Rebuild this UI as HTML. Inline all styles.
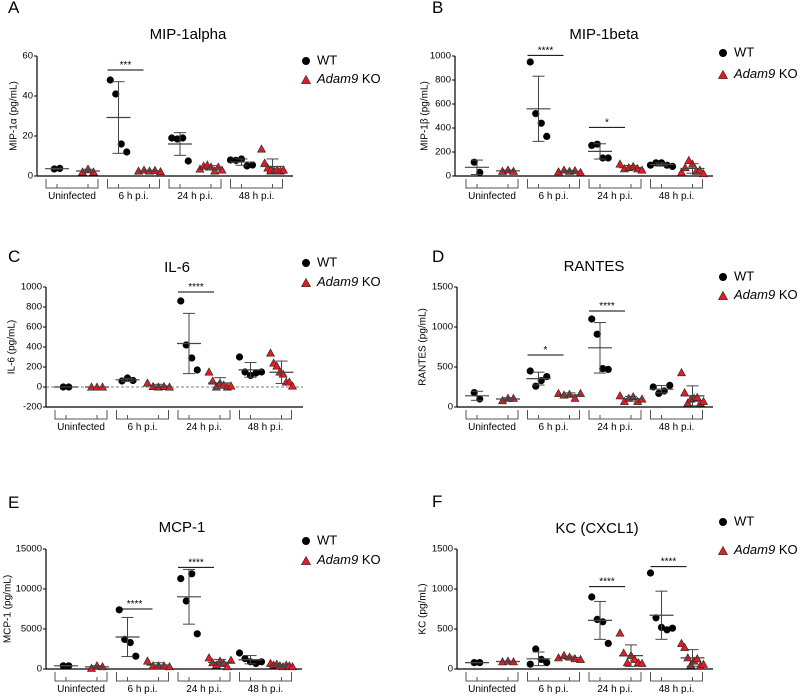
<!DOCTYPE html>
<html><head><meta charset="utf-8"><style>
body{margin:0;background:#fff;}
svg{display:block;font-family:"Liberation Sans",Arial,sans-serif;}
</style></head><body>
<svg id="fig" width="800" height="697" viewBox="0 0 800 697"></svg>
<script>
const groups = ["Uninfected","6 h p.i.","24 h p.i.","48 h p.i."];
const wtA = [[3.5,3.8],[48,41,16,12],[19,18.5,19,7.5],[8,7.8,8.5,5,5.5]];
const koA = [[2,3.5,2],[2.5,3,2.5,2.8,2.2],[3.5,5,5.5,4.5,2.5,4.5,3],[13.5,6.5,4,3,2.5,3,2.5,3]];
const wtB = [[115,30],[950,520,440,330],[255,265,150,150],[90,110,110,90,80]];
const koB = [[40,50,40],[35,50,40,45,30],[100,60,70,80,60,50],[30,70,130,100,40,50,20]];
const wtC = [[0,0],[60,90,65],[860,420,290,170],[300,150,115,140,150]];
const koC = [[0,0,0],[40,5,0,5,0],[150,60,0,40,20,0,10],[340,240,210,150,130,50,50,10]];
const wtD = [[180,100],[450,260,330,380],[1100,910,480,470],[250,170,200,270]];
const koD = [[80,110,110],[170,150,160,110,170],[140,70,110,130,70,100],[430,180,50,100,110,120,50,70]];
const wtE = [[400,400],[7400,3700,3300,1600],[11300,8500,11900,4400],[2000,1300,900,700,900]];
const koE = [[100,400,300],[1000,400,400,400,300],[1400,800,500,1000,700,300,1100],[700,500,600,400,300,500,400,300]];
const wtF = [[80,80],[60,250,120,80],[900,620,590,320],[1200,640,520,490,510]];
const koF = [[90,100,90],[140,170,150,130,120],[450,200,80,170,120,80,70],[320,270,140,50,100,130,40,60]];
const ticksA=[0,20,40,60], ticksB=[0,200,400,600,800,1000], ticksC=[-200,0,200,400,600,800,1000],
      ticksD=[0,500,1000,1500], ticksE=[0,5000,10000,15000], ticksF=[0,500,1000,1500];
const sigA=[[1,"***",53]], sigB=[[1,"****",1005],[2,"*",405]], sigC=[[2,"****",950]],
      sigD=[[1,"*",650],[2,"****",1200]], sigE=[[1,"****",7500],[2,"****",12700]], sigF=[[2,"****",1030],[3,"****",1280]];

const panels=[
 {id:"a",L:"A",lx:8,ly:13,title:"MIP-1alpha",tx:188,ty:35,ylab:"MIP-1\u03b1 (pg/mL)",ylx:14,ax:37,yb:176,yt:56,min:0,max:60,ticks:ticksA,xend:293,g0:72,wt:wtA,ko:koA,sig:sigA,legy:[61,80],legx:306},
 {id:"b",L:"B",lx:432,ly:13,title:"MIP-1beta",tx:604,ty:35,ylab:"MIP-1\u03b2 (pg/mL)",ylx:425,ax:455,yb:176,yt:56,min:0,max:1000,ticks:ticksB,xend:713,g0:492,wt:wtB,ko:koB,sig:sigB,legy:[53,75],legx:723},
 {id:"c",L:"C",lx:8,ly:262,title:"IL-6",tx:177,ty:268,ylab:"IL-6 (pg/mL)",ylx:12,ax:46,yb:407,yt:287,min:-200,max:1000,ticks:ticksC,xend:303,g0:81,wt:wtC,ko:koC,sig:sigC,legy:[263,283],legx:306,dash:true},
 {id:"d",L:"D",lx:432,ly:262,title:"RANTES",tx:594,ty:267,ylab:"RANTES (pg/mL)",ylx:423,ax:457,yb:407,yt:287,min:0,max:1500,ticks:ticksD,xend:713,g0:492,wt:wtD,ko:koD,sig:sigD,legy:[277,296],legx:723},
 {id:"e",L:"E",lx:8,ly:508,title:"MCP-1",tx:182,ty:528,ylab:"MCP-1 (pg/mL)",ylx:8,ax:46,yb:669,yt:549,min:0,max:15000,ticks:ticksE,xend:302,g0:81,wt:wtE,ko:koE,sig:sigE,legy:[541,561],legx:306},
 {id:"f",L:"F",lx:432,ly:507,title:"KC (CXCL1)",tx:597,ty:529,ylab:"KC (pg/mL)",ylx:423,ax:457,yb:669,yt:549,min:0,max:1500,ticks:ticksF,xend:713,g0:492,wt:wtF,ko:koF,sig:sigF,legy:[522,551],legx:723}
];
const NS="http://www.w3.org/2000/svg";
const svg=document.getElementById("fig");
function mk(tag,attrs,parent,txt){const e=document.createElementNS(NS,tag);for(const k in attrs)e.setAttribute(k,attrs[k]);if(txt!==undefined)e.textContent=txt;parent.appendChild(e);return e;}
function stats(a){const m=a.reduce((s,v)=>s+v,0)/a.length;const sd=a.length>1?Math.sqrt(a.reduce((s,v)=>s+(v-m)*(v-m),0)/(a.length-1)):0;return [m,sd];}
function tri(x,y,s){return `${x},${y-s} ${x-s},${y+s*0.8} ${x+s},${y+s*0.8}`;}

panels.forEach(p=>{
 const g=mk("g",{},svg);
 
 
 const Y=v=>p.yb-(v-p.min)/(p.max-p.min)*(p.yb-p.yt);
 const GX=i=>p.g0+61.5*i;
 const l=mk("text",{x:p.lx,y:p.ly,"font-size":17},g,p.L);
 
 
 const t=mk("text",{x:p.tx,y:p.ty,"font-size":15,"text-anchor":"middle","dominant-baseline":"middle"},g,p.title);
 
 
 const ymid=(p.yb+p.yt)/2;
 const yl=mk("text",{x:p.ylx,y:ymid,"font-size":10,"text-anchor":"middle","dominant-baseline":"middle",transform:`rotate(-90 ${p.ylx} ${ymid})`},g,p.ylab);
 
 
 mk("line",{x1:p.ax,y1:p.yt,x2:p.ax,y2:p.yb,stroke:"#000","stroke-width":1.2},g);
 const xa=mk("line",{x1:p.ax,y1:p.yb,x2:p.xend,y2:p.yb,stroke:"#000","stroke-width":1.2},g);
 
 
 if(p.dash) mk("line",{x1:p.ax,y1:Y(0),x2:p.xend,y2:Y(0),stroke:"#555","stroke-width":0.8,"stroke-dasharray":"3,2"},g);
 p.ticks.forEach(v=>{
  mk("line",{x1:p.ax-3,y1:Y(v),x2:p.ax,y2:Y(v),stroke:"#000"},g);
  const tl=mk("text",{x:p.ax-4,y:Y(v),"font-size":9.5,"text-anchor":"end","dominant-baseline":"middle"},g,v);
  
  
 });
 groups.forEach((name,i)=>{
  const c=GX(i), wx=c-15, kx=c+16;
  const b0=p.yb+3,b1=p.yb+12,bl=c-26,br=c+26;
  mk("path",{d:`M${bl},${b0}V${b1}H${br}V${b0}M${wx},${b1}v-4M${kx},${b1}v-4`,fill:"none",stroke:"#555","stroke-width":1},g);
  const gl=mk("text",{x:c,y:b1+11,"font-size":10,"text-anchor":"middle"},g,name);
  
  
  [[p.wt[i],wx,"wt"],[p.ko[i],kx,"ko"]].forEach(([arr,x,kind])=>{
   const [m,sd]=stats(arr);
   const n=arr.length, sp=Math.min(5.5,22/Math.max(n-1,1));
   arr.forEach((v,j)=>{
    const px=x+(j-(n-1)/2)*sp*(n>1?1:0);
    let e;
    if(kind==="wt") e=mk("circle",{cx:px,cy:Y(v),r:3.6,fill:"#000"},g);
    else e=mk("polygon",{points:tri(px,Y(v),4),fill:"#e31d23",stroke:"#222","stroke-width":0.6},g);
    
    
   });
   const col="#444";
   mk("line",{x1:x,y1:Y(m-sd),x2:x,y2:Y(m+sd),stroke:col,"stroke-width":1},g);
   mk("line",{x1:x-6,y1:Y(m+sd),x2:x+6,y2:Y(m+sd),stroke:col,"stroke-width":1},g);
   mk("line",{x1:x-6,y1:Y(m-sd),x2:x+6,y2:Y(m-sd),stroke:col,"stroke-width":1},g);
   const ml=mk("line",{x1:x-12,y1:Y(m),x2:x+12,y2:Y(m),stroke:col,"stroke-width":1.2},g);
   
   
  });
 });
 p.sig.forEach(([gi,txt,v])=>{
  const c=GX(gi);
  mk("line",{x1:c-26,y1:Y(v),x2:c+10,y2:Y(v),stroke:"#000","stroke-width":1},g);
  const st=mk("text",{x:c-8,y:Y(v)-2,"font-size":10,"text-anchor":"middle"},g,txt);
  
  
 });
 const lw=mk("circle",{cx:p.legx,cy:p.legy[0],r:4,fill:"#000"},g);
 
 
 const lt1=mk("text",{x:p.legx+11,y:p.legy[0],"font-size":13,"dominant-baseline":"middle"},g,"WT");
 
 
 const lk=mk("polygon",{points:tri(p.legx,p.legy[1],4.5),fill:"#e31d23",stroke:"#222","stroke-width":0.6},g);
 
 
 const lt2=mk("text",{x:p.legx+11,y:p.legy[1],"font-size":13,"dominant-baseline":"middle"},g);
 
 
 mk("tspan",{"font-style":"italic"},lt2,"Adam9");
 mk("tspan",{},lt2," KO");
});
</script>
</body></html>
